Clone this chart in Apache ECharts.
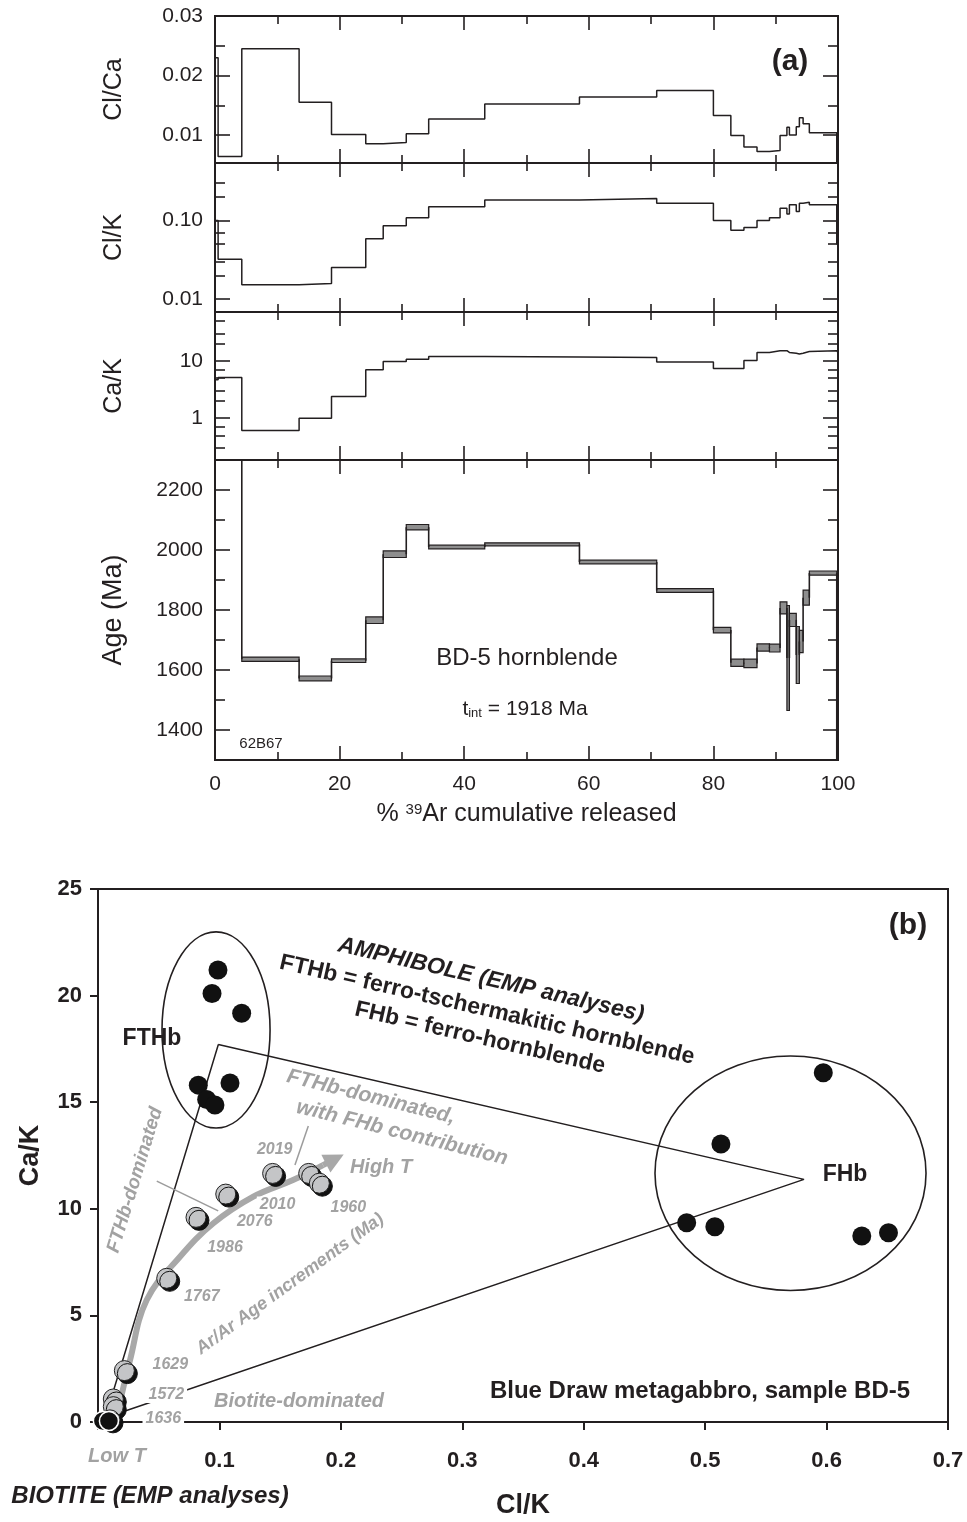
<!DOCTYPE html>
<html>
<head>
<meta charset="utf-8">
<title>BD-5 hornblende</title>
<script src="https://cdn.jsdelivr.net/npm/echarts@6/dist/echarts.min.js"></script>
<style>
  html, body { margin: 0; padding: 0; background: #fff; }
  #chart { width: 967px; height: 1522px; }
</style>
</head>
<body>
<div id="chart"></div>
<script>
/* ---------------------------------------------------------------------------
 * (a) step-heating spectra, one value per heating step
 * ------------------------------------------------------------------------- */
const stepBounds = [0, 0.5, 4.3, 13.5, 18.7, 24.2, 27.0, 30.7, 34.3, 43.3, 58.5, 70.9, 80.0,
    82.8, 84.9, 87.0, 89.0, 90.7, 91.8, 92.2, 93.3, 93.8, 94.4, 95.4, 99.8, 100];

const clCa = [0.023, 0.0064, 0.0245, 0.0155, 0.0101, 0.00854, 0.00876, 0.0102, 0.0127, 0.0152,
    0.0164, 0.0175, 0.0133, 0.0099, 0.0080, 0.00724, 0.0074, 0.0099, 0.0113, 0.0100,
    0.0114, 0.0129, 0.0119, 0.0104, 0.004];

const clK = [0.1, 0.032, 0.0151, 0.0157, 0.0251, 0.0582, 0.0857, 0.108, 0.150, 0.182,
    0.19, 0.166, 0.1, 0.0748, 0.081, 0.1, 0.108, 0.143, 0.121, 0.158,
    0.13, 0.166, 0.17, 0.158, 0.05];

const caK = [4.7, 5.1, 0.61, 1.0, 2.38, 6.96, 9.7, 10.7, 11.9, 11.7,
    11.4, 9.5, 7.35, 7.35, 10.1, 13.97, 15, 15, 14, 13.6,
    13.2, 13.6, 14.6, 15, 14];

const ageMa = [2600, 2600, 1636, 1572, 1631, 1766, 1986, 2076, 2010, 2019,
    1960, 1865, 1733, 1624, 1622, 1675, 1673, 1807, 1640, 1767,
    1650, 1695, 1841, 1923, 1290];

const ageErr = [10, 10, 7, 8, 6, 11, 11, 9, 6, 5,
    6, 6, 9, 12, 14, 12, 13, 20, 175, 22,
    95, 37, 25, 7, 30];

const xTickLabels = [0, 20, 40, 60, 80, 100];
const clCaTicks = [0.01, 0.02, 0.03];
const clCaMinor = [0.015, 0.025];
const clKTicks = [0.01, 0.1];
const clKMinor = [0.02, 0.03, 0.05, 0.07, 0.2, 0.3];
const caKTicks = [1, 10];
const caKMinor = [0.3, 0.5, 0.7, 2, 3, 5, 7, 20, 30, 50];
const ageTicks = [1400, 1600, 1800, 2000, 2200];
const ageMinor = [1500, 1700, 1900, 2100];

/* ---------------------------------------------------------------------------
 * (b) Ca/K versus Cl/K
 * ------------------------------------------------------------------------- */
const fthbPoints = [[0.0988, 21.2], [0.0939, 20.1], [0.1183, 19.17], [0.0826, 15.8],
    [0.1087, 15.9], [0.0895, 15.13], [0.0963, 14.87]];
const fhbPoints = [[0.5973, 16.38], [0.513, 13.04], [0.4848, 9.35], [0.508, 9.16],
    [0.629, 8.72], [0.651, 8.88]];
const biotitePoints = [[0.004, 0.05], [0.009, 0.05]];

const incrementPoints = [[0.0566, 6.74], [0.0807, 9.6], [0.1052, 10.69], [0.1438, 11.66],
    [0.1735, 11.66], [0.1823, 11.2], [0.0217, 2.41], [0.0126, 1.08], [0.0126, 0.72], [0.0099, 0.1]];
const incrementAges = ['1767', '1986', '2076', '2010', '2019', '1960', '1629', '1572', '1636', ''];
const incrementLabelOffsets = [[35, 18], [29, 30], [29, 28], [5, 31], [-34, -24], [29, 24],
    [46, -6], [53, -4], [50, 12], [0, 0]];

// cx, cy, rx, ry in data units
const fieldEllipses = [[0.0972, 18.39, 0.0445, 4.6], [0.5703, 11.67, 0.1116, 5.5]];
const mixingTriangle = [[0.0991, 17.71], [0.5814, 11.38], [0.006, 0.2], [0.0991, 17.71]];
const trendCurve = [[0.0154, 0.25], [0.0264, 2.91], [0.0401, 5.72], [0.0675, 7.75], [0.0950, 9.32],
    [0.1279, 10.57], [0.1606, 11.35], [0.1853, 12.05]];
const trendArrow = [[0.1853, 12.05], [0.1950, 12.33]];
const leaderLines = [[[0.0484, 11.3], [0.099, 9.9]], [[0.1732, 13.88], [0.1622, 12.05]]];

/* ---------------------------------------------------------------------------
 * Styling helpers
 * ------------------------------------------------------------------------- */
const INK = '#231f20';
const GREY_TEXT = '#a2a2a2';
const FONT = "'Liberation Sans', Arial, sans-serif";

const panels = [
    {top: 16, height: 147},
    {top: 163, height: 149},
    {top: 312, height: 148},
    {top: 460, height: 300}
];

function stepData(values, transform) {
    let pts = values.map((v, i) => [stepBounds[i], transform(v)]);
    pts.push([100, transform(values[values.length - 1])]);
    return pts;
}

function xAxesFor(grid, withLabels) {
    let base = {
        gridIndex: grid, type: 'value', min: 0, max: 100, interval: 20,
        splitLine: {show: false},
        axisLine: {show: false, onZero: false},
        axisTick: {inside: true, length: 14, lineStyle: {color: INK, width: 1.6}},
        minorTick: {show: true, splitNumber: 2, length: 8, lineStyle: {color: INK, width: 1.6}}
    };
    let bottom = Object.assign({}, base, {position: 'bottom', axisLabel: {show: false}});
    if (withLabels) {
        bottom.axisLabel = {
            show: true, margin: 14, fontSize: 21, color: INK, fontFamily: FONT,
            customValues: xTickLabels
        };
        bottom.name = '% {sup|39}Ar cumulative released';
        bottom.nameLocation = 'middle';
        bottom.nameGap = 42;
        bottom.nameTextStyle = {
            fontSize: 25, color: INK, fontFamily: FONT,
            rich: {sup: {fontSize: 15, verticalAlign: 'top', color: INK, fontFamily: FONT}}
        };
    }
    let top = Object.assign({}, base, {position: 'top', axisLabel: {show: false}});
    return [bottom, top];
}

function yAxesFor(grid, min, max, majors, minors, fmt, name, nameSize) {
    let base = {
        gridIndex: grid, type: 'value', min: min, max: max,
        splitLine: {show: false},
        axisLine: {show: false, onZero: false}
    };
    let tick = (vals, len) => ({
        show: true, inside: true, length: len, customValues: vals,
        lineStyle: {color: INK, width: 1.6}
    });
    return [
        Object.assign({}, base, {
            position: 'left', axisTick: tick(majors, 15),
            axisLabel: {customValues: majors, formatter: fmt, margin: 12, fontSize: 21,
                color: INK, fontFamily: FONT},
            name: name, nameLocation: 'middle', nameRotate: 90, nameGap: 88,
            nameTextStyle: {fontSize: nameSize || 25, color: INK, fontFamily: FONT}
        }),
        Object.assign({}, base, {position: 'left', axisTick: tick(minors, 10), axisLabel: {show: false}}),
        Object.assign({}, base, {position: 'right', axisTick: tick(majors, 15), axisLabel: {show: false}}),
        Object.assign({}, base, {position: 'right', axisTick: tick(minors, 10), axisLabel: {show: false}})
    ];
}

const log10 = v => Math.log10(v);
const same = v => v;

/* ---------------------------------------------------------------------------
 * Grids and axes
 * ------------------------------------------------------------------------- */
let grids = panels.map(p => ({
    left: 215, top: p.top, width: 623, height: p.height,
    show: true, borderColor: INK, borderWidth: 2, outerBoundsMode: 'none'
}));
grids.push({left: 98, top: 889, width: 850, height: 533,
    show: true, borderColor: INK, borderWidth: 2, outerBoundsMode: 'none'});

let xAxes = [];
panels.forEach((p, i) => { xAxes = xAxes.concat(xAxesFor(i, i === 3)); });
xAxes.push({
    gridIndex: 4, type: 'value', min: 0, max: 0.7, interval: 0.1, position: 'bottom',
    splitLine: {show: false},
    axisLine: {show: true, onZero: false, lineStyle: {color: INK, width: 2}},
    axisTick: {inside: false, length: 8, lineStyle: {color: INK, width: 2}},
    axisLabel: {margin: 28, fontSize: 22, fontWeight: 'bold', color: INK, fontFamily: FONT,
        formatter: v => (v === 0 ? '' : v.toFixed(1))},
    name: 'Cl/K', nameLocation: 'middle', nameGap: 70,
    nameTextStyle: {fontSize: 27, fontWeight: 'bold', color: INK, fontFamily: FONT}
});

let yAxes = [].concat(
    yAxesFor(0, 0.0053, 0.03, clCaTicks, clCaMinor, v => v.toFixed(2), 'Cl/Ca'),
    yAxesFor(1, log10(0.0068), log10(0.54), clKTicks.map(log10), clKMinor.map(log10),
        v => (Math.round(v) === -1 ? '0.10' : '0.01'), 'Cl/K'),
    yAxesFor(2, log10(0.187), log10(71), caKTicks.map(log10), caKMinor.map(log10),
        v => (Math.round(v) === 1 ? '10' : '1'), 'Ca/K'),
    yAxesFor(3, 1300, 2300, ageTicks, ageMinor, v => String(v), 'Age (Ma)', 27)
);
yAxes.push({
    gridIndex: 4, type: 'value', min: 0, max: 25, interval: 5, position: 'left',
    splitLine: {show: false},
    axisLine: {show: true, onZero: false, lineStyle: {color: INK, width: 2}},
    axisTick: {inside: false, length: 8, lineStyle: {color: INK, width: 2}},
    axisLabel: {margin: 16, fontSize: 22, fontWeight: 'bold', color: INK, fontFamily: FONT},
    name: 'Ca/K', nameLocation: 'middle', nameGap: 54, nameRotate: 90,
    nameTextStyle: {fontSize: 27, fontWeight: 'bold', color: INK, fontFamily: FONT}
});

/* ---------------------------------------------------------------------------
 * Series
 * ------------------------------------------------------------------------- */
function stepSeries(panel, values, transform) {
    return {
        type: 'line', xAxisIndex: panel * 2, yAxisIndex: panel * 4,
        data: stepData(values, transform), step: 'end', symbol: 'none', clip: true,
        silent: true, lineStyle: {color: INK, width: 1.5}
    };
}

let ageItems = ageMa.map((a, i) => [stepBounds[i], stepBounds[i + 1], a, ageErr[i], i ? ageMa[i - 1] : a]);

let series = [
    stepSeries(0, clCa, same),
    stepSeries(1, clK, log10),
    stepSeries(2, caK, log10),
    {
        type: 'custom', xAxisIndex: 6, yAxisIndex: 12, data: ageItems, silent: true,
        encode: {x: [0, 1], y: 2},
        renderItem: function (params, api) {
            let cs = params.coordSys;
            let x1 = api.value(0), x2 = api.value(1), age = api.value(2), err = api.value(3), prev = api.value(4);
            let tl = api.coord([x1, age + err]);
            let br = api.coord([x2, age - err]);
            let children = [];
            let rect = echarts.graphic.clipRectByRect(
                {x: tl[0], y: tl[1], width: br[0] - tl[0], height: br[1] - tl[1]}, cs);
            if (rect) {
                children.push({type: 'rect', shape: rect,
                    style: {fill: '#8e8e8e', stroke: INK, lineWidth: 1.2}});
            }
            let clampY = y => Math.max(cs.y, Math.min(cs.y + cs.height, y));
            let a = api.coord([x1, prev]), b = api.coord([x1, age]);
            children.push({type: 'line',
                shape: {x1: a[0], y1: clampY(a[1]), x2: b[0], y2: clampY(b[1])},
                style: {stroke: INK, lineWidth: 1.6}});
            return {type: 'group', children: children};
        }
    },
    // (b) field ellipses
    {
        type: 'custom', xAxisIndex: 8, yAxisIndex: 16, data: fieldEllipses, silent: true, z: 1,
        renderItem: function (params, api) {
            let c = api.coord([api.value(0), api.value(1)]);
            let s = api.size([api.value(2), api.value(3)]);
            return {type: 'ellipse', shape: {cx: c[0], cy: c[1], rx: s[0], ry: s[1]},
                style: {fill: 'none', stroke: INK, lineWidth: 1.6}};
        }
    },
    {
        type: 'line', xAxisIndex: 8, yAxisIndex: 16, data: mixingTriangle, symbol: 'none',
        silent: true, z: 2, lineStyle: {color: INK, width: 1.5}
    },
    {
        type: 'line', xAxisIndex: 8, yAxisIndex: 16, data: trendCurve, symbol: 'none', smooth: 0.4,
        silent: true, z: 3, lineStyle: {color: '#a8a8a8', width: 6}
    },
    {
        type: 'lines', coordinateSystem: 'cartesian2d', xAxisIndex: 8, yAxisIndex: 16, silent: true, z: 3,
        data: [{coords: trendArrow}], symbol: ['none', 'triangle'], symbolSize: 20,
        lineStyle: {color: '#a8a8a8', width: 6, opacity: 1}
    },
    {
        type: 'lines', coordinateSystem: 'cartesian2d', xAxisIndex: 8, yAxisIndex: 16, silent: true, z: 3,
        data: leaderLines.map(c => ({coords: c})), symbol: 'none',
        lineStyle: {color: '#9c9c9c', width: 1.5, opacity: 1}
    },
    {
        type: 'scatter', xAxisIndex: 8, yAxisIndex: 16, data: fthbPoints.concat(fhbPoints),
        symbolSize: 19, silent: true, z: 4, itemStyle: {color: '#111', opacity: 1}
    },
    {
        type: 'scatter', xAxisIndex: 8, yAxisIndex: 16, silent: true, z: 5, symbolSize: 20,
        itemStyle: {color: '#c4c5c7', borderColor: '#222', borderWidth: 1, opacity: 1,
            shadowColor: '#111', shadowBlur: 0, shadowOffsetX: 3, shadowOffsetY: 3},
        data: incrementPoints.map((p, i) => ({
            value: p,
            label: {
                show: incrementAges[i] !== '', position: 'inside', formatter: incrementAges[i],
                offset: incrementLabelOffsets[i], color: GREY_TEXT, fontSize: 16,
                fontWeight: 'bold', fontStyle: 'italic', fontFamily: FONT,
                backgroundColor: '#fff', padding: [0, 3]
            }
        }))
    },
    {
        type: 'scatter', xAxisIndex: 8, yAxisIndex: 16, data: biotitePoints, silent: true, z: 6,
        symbolSize: 19, itemStyle: {color: '#111', borderColor: '#fff', borderWidth: 1.5, opacity: 1}
    }
];

/* ---------------------------------------------------------------------------
 * Free text
 * ------------------------------------------------------------------------- */
function txt(x, y, text, size, opts) {
    opts = opts || {};
    return {
        type: 'text', x: x, y: y, z: 100, rotation: (opts.rot || 0) * Math.PI / 180,
        style: {
            text: text, fill: opts.color || INK, fontFamily: FONT, fontSize: size,
            fontWeight: opts.bold ? 'bold' : 'normal', fontStyle: opts.italic ? 'italic' : 'normal',
            align: 'center', verticalAlign: 'middle', rich: opts.rich
        }
    };
}

const greyItalic = {bold: true, italic: true, color: GREY_TEXT};

let texts = [
    txt(790, 62, '(a)', 30, {bold: true}),
    txt(527, 658, 'BD-5 hornblende', 24),
    txt(525, 709, 't{sub|int} = 1918 Ma', 21,
        {rich: {sub: {fontSize: 13, verticalAlign: 'bottom', fontFamily: FONT, fill: INK}}}),
    txt(261, 744, '62B67', 15),

    txt(908, 926, '(b)', 30, {bold: true}),
    txt(491, 980, 'AMPHIBOLE (EMP analyses)', 23, {bold: true, italic: true, rot: -13}),
    txt(487, 1010, 'FTHb = ferro-tschermakitic hornblende', 23, {bold: true, rot: -13}),
    txt(480, 1038, 'FHb = ferro-hornblende', 23, {bold: true, rot: -13}),
    txt(152, 1039, 'FTHb', 23, {bold: true}),
    txt(845, 1175, 'FHb', 23, {bold: true}),
    txt(371, 1097, 'FTHb-dominated,', 21, Object.assign({rot: -14}, greyItalic)),
    txt(402, 1133, 'with FHb contribution', 21, Object.assign({rot: -14}, greyItalic)),
    txt(381, 1167, 'High T', 20, greyItalic),
    txt(135, 1180, 'FTHb-dominated', 19, Object.assign({rot: 73}, greyItalic)),
    txt(290, 1284, 'Ar/Ar Age increments (Ma)', 18, Object.assign({rot: 36}, greyItalic)),
    txt(299, 1401, 'Biotite-dominated', 20, greyItalic),
    txt(117, 1456, 'Low T', 20, greyItalic),
    txt(150, 1496, 'BIOTITE (EMP analyses)', 24, {bold: true, italic: true}),
    txt(700, 1391, 'Blue Draw metagabbro, sample BD-5', 24, {bold: true})
];

/* ---------------------------------------------------------------------------
 * Chart
 * ------------------------------------------------------------------------- */
let chart = echarts.init(document.getElementById('chart'), null, {renderer: 'canvas'});
chart.setOption({
    animation: false,
    backgroundColor: '#fff',
    grid: grids,
    xAxis: xAxes,
    yAxis: yAxes,
    series: series,
    graphic: {elements: texts}
});
</script>
</body>
</html>
